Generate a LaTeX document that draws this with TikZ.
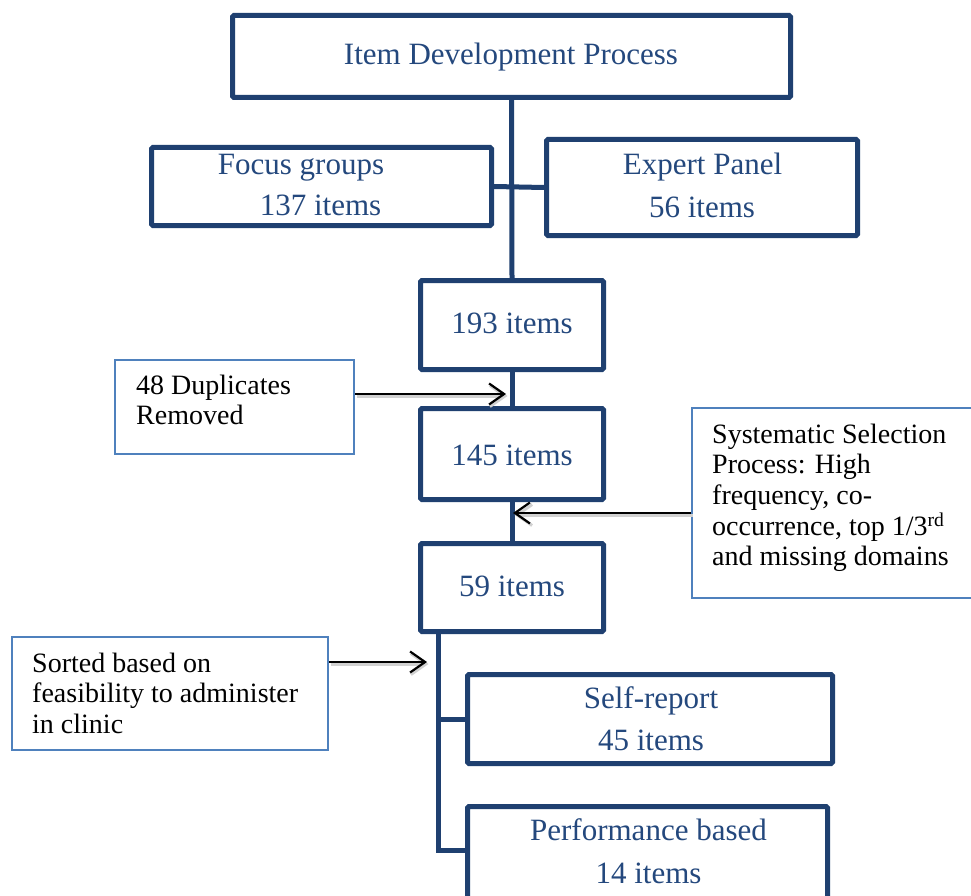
\documentclass[tikz,border=0pt]{standalone}
\usepackage{fontspec}
\setmainfont{Liberation Serif}
\usetikzlibrary{arrows.meta}
\definecolor{boxline}{RGB}{31,64,112}
\definecolor{boxtext}{RGB}{36,72,125}
\definecolor{noteline}{RGB}{79,129,189}
\begin{document}
\begin{tikzpicture}[x=1pt,y=-1pt,
  stage/.style={draw=boxline, line width=5pt, rounded corners=1.5pt, inner sep=0pt, fill=white},
  note/.style={draw=noteline, line width=2pt, inner sep=0pt, fill=white},
  big/.style={font=\fontsize{31}{37}\selectfont, text=boxtext, inner sep=0pt, anchor=base},
  small/.style={font=\fontsize{28}{30.7}\selectfont, text=black, inner sep=0pt, anchor=base west},
  link/.style={draw=boxline, line width=5pt},
  pointer/.style={draw=black, line width=2.2pt, -{Straight Barb[length=15pt,width=21pt]},
    preaction={draw=black!18, line width=3pt, transform canvas={xshift=1.5pt,yshift=-2pt}}},
]
\useasboundingbox (0,0) rectangle (971,896);
\fill[white] (0,0) rectangle (971,896);

% stage boxes
\node[stage, minimum width=558pt, minimum height=82pt] (top) at (511.5,56.5) {};
\node[stage, minimum width=340pt, minimum height=78pt] (focus) at (321.5,186.5) {};
\node[stage, minimum width=311pt, minimum height=96pt] (expert) at (702,187.5) {};
\node[stage, minimum width=183pt, minimum height=89pt] (s193) at (512,325) {};
\node[stage, minimum width=183pt, minimum height=91pt] (s145) at (512,454) {};
\node[stage, minimum width=183pt, minimum height=88pt] (s59) at (512,587.5) {};
\node[stage, minimum width=365pt, minimum height=89pt] (self) at (650,719) {};
\node[stage, minimum width=360pt, minimum height=100pt] (perf) at (647.5,856.5) {};

% note boxes
\node[note, minimum width=239pt, minimum height=94pt] (dup) at (234.5,407) {};
\node[note, minimum width=316pt, minimum height=113pt] (sorted) at (170,693.5) {};
\node[note, minimum width=283pt, minimum height=190pt] (sys) at (833.5,503) {};

% connectors
\draw[link] (top.south) -- (s193.north);
\draw[link] (focus.east) -- (expert.west);
\draw[link] (s193.south) -- (s145.north);
\draw[link] (s145.south) -- (s59.north);
\coordinate (branch) at (438,632);
\draw[link, line join=miter] (s59.south -| branch) |- (self.west);
\draw[link, line join=miter] (s59.south -| branch) |- ([yshift=6.5pt]perf.west);

% pointers
\coordinate (dupTip) at (506,394);
\coordinate (sysTip) at (513,513);
\coordinate (sortTip) at (427,662);
\draw[pointer] ([yshift=13pt]dup.east) -- (dupTip);
\draw[pointer] ([yshift=-10pt]sys.west) -- (sysTip);
\draw[pointer] ([yshift=31.5pt]sorted.east) -- (sortTip);

% stage texts
\node[big] (topT) at (511,65) {Item Development Process};
\node[big] (focT1) at (301,175) {Focus groups};
\node[big] (focT2) at (320.5,215) {137 items};
\node[big] (expT1) at (702.5,175) {Expert Panel};
\node[big] (expT2) at (702,217) {56 items};
\node[big] (t193) at (512,333) {193 items};
\node[big] (t145) at (512,465) {145 items};
\node[big] (t59) at (512,596) {59 items};
\node[big] (selfT1) at (651,708) {Self-report};
\node[big] (selfT2) at (651,750) {45 items};
\node[big] (perfT1) at (648.5,840) {Performance based};
\node[big] (perfT2) at (648.5,883) {14 items};

% note texts
\node[small] (dupT) at (136,394) {\parbox[t]{215pt}{\raggedright 48 Duplicates\\Removed}};
\node[small] (sortT) at (32,672) {\parbox[t]{290pt}{\raggedright Sorted based on\\feasibility to administer\\in clinic}};
\node[small] (sysT) at (712,443) {\parbox[t]{260pt}{\raggedright Systematic Selection\\Process: High\\frequency, co-\\occurrence, top 1/3\textsuperscript{rd}\\and missing domains}};
\end{tikzpicture}
\end{document}
